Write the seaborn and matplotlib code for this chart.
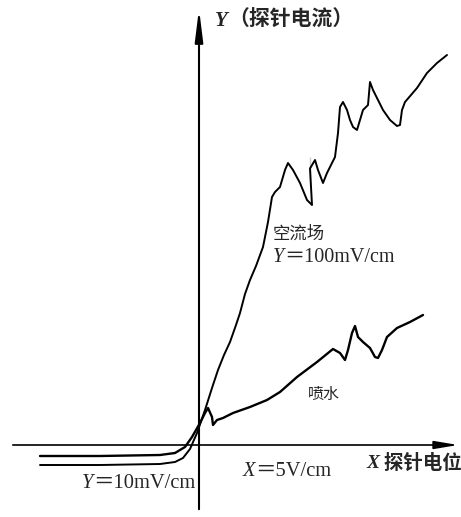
import numpy as np
import pandas as pd
import seaborn as sns
import matplotlib.pyplot as plt

# probe characteristic curves (origin = axis crossing)
air_x = [-159, -99, -39, -24, -16, -9, -2, 6, 13, 19, 25, 31, 37, 41, 46, 51, 57, 64, 69, 73, 76, 81, 86, 89,
         94, 101, 108, 113, 111, 111, 116, 119, 124, 128, 131, 136, 139, 141, 144, 148, 151, 154, 158, 161,
         164, 169, 171, 174, 179, 184, 191, 198, 201, 203, 206, 218, 228, 238, 248]
air_y = [-20, -20, -19, -17, -13, -4, 12, 35, 57, 75, 90, 103, 120, 132, 151, 165, 179, 198, 223, 248, 253, 258,
         275, 282, 275, 262, 245, 240, 265, 288, 285, 275, 262, 272, 278, 288, 312, 338, 343, 335, 325, 318,
         315, 325, 335, 340, 363, 355, 345, 335, 325, 319, 320, 335, 343, 357, 372, 382, 390]

water_x = [-159, -99, -39, -24, -14, -7, 1, 6, 9, 13, 14, 18, 24, 34, 51, 68, 81, 98, 118, 134, 141, 146,
           149, 153, 156, 159, 164, 171, 176, 179, 183, 188, 198, 211, 224]
water_y = [-11, -11, -10, -8, -2, 8, 22, 32, 37, 28, 20, 25, 27, 32, 38, 45, 53, 68, 83, 96, 92, 85,
           95, 112, 119, 108, 103, 97, 88, 87, 95, 108, 117, 123, 130]

air = pd.DataFrame({"x": air_x, "y": air_y})
water = pd.DataFrame({"x": water_x, "y": water_y})

sns.set_theme(style="white")
fam = ["Liberation Serif", "Noto Sans CJK SC"]

fig = plt.figure(figsize=(4.61, 5.17), dpi=100)
ax = fig.add_axes([0, 0, 1, 1])
ax.set_xlim(-199, 262)
ax.set_ylim(-72, 445)
ax.axis("off")

sns.lineplot(data=air, x="x", y="y", sort=False, color="black", lw=1.4, ax=ax)
sns.lineplot(data=water, x="x", y="y", sort=False, color="black", lw=1.7, ax=ax)

# axes with arrows
ax.annotate("", xy=(262, 0), xytext=(-189, 0),
            arrowprops=dict(arrowstyle="-|>,head_length=1.2,head_width=0.2", color="black", lw=1.2))
ax.annotate("", xy=(0, 439), xytext=(0, -67),
            arrowprops=dict(arrowstyle="-|>,head_length=1.6,head_width=0.2", color="black", lw=1.5))


def label(x, y, var, rest, size, bold=False):
    w = "bold" if bold else "normal"
    t = ax.text(x, y, var, family=fam, style="italic", fontsize=size, fontweight=w, va="center")
    ax.annotate(rest, xy=(1, 0.5), xycoords=t, family=fam, fontsize=size, fontweight=w,
                va="center", ha="left")


label(16, 424, "Y", "（探针电流）", 15, bold=True)
label(167, -18, "X", " 探针电位", 14, bold=True)
label(44, -26, "X", "＝5V/cm", 14.8)
label(-117, -38, "Y", "＝10mV/cm", 14.8)
label(74, 187, "Y", "＝100mV/cm", 14.5)
ax.text(74, 210, "空流场", family=fam, fontsize=12.5, va="center")
ax.text(109, 50, "喷水", family=fam, fontsize=11.5, va="center")

plt.savefig("out.png", dpi=100)
